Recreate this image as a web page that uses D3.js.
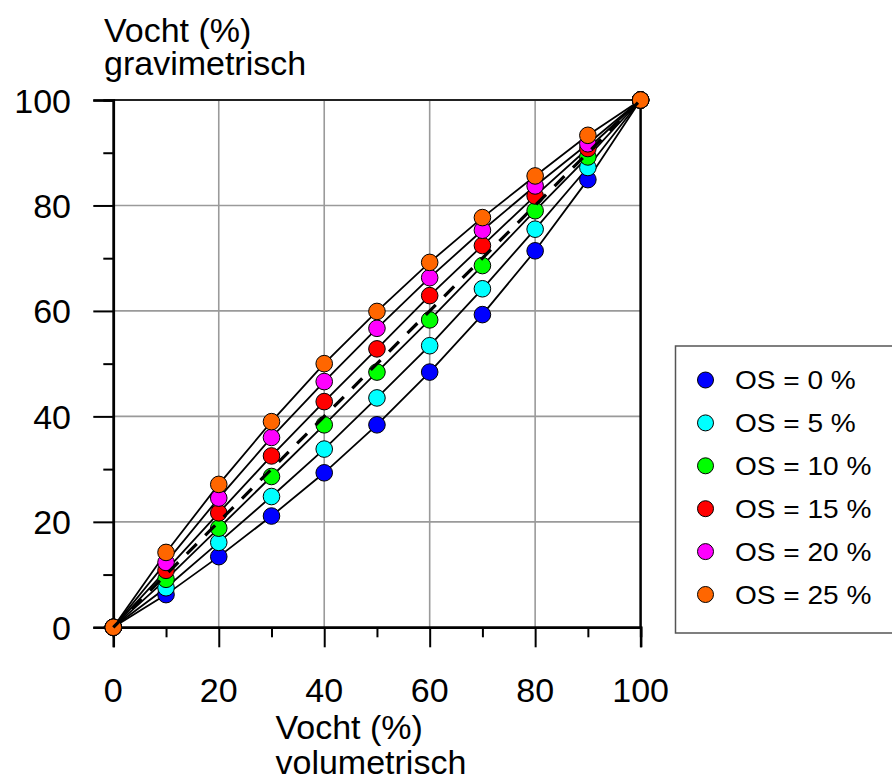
<!DOCTYPE html>
<html>
<head>
<meta charset="utf-8">
<script src="https://cdn.jsdelivr.net/npm/d3@7"></script>
<style>
  html, body { margin: 0; padding: 0; background: #fff; }
  svg text { font-family: Arial, "Liberation Sans", sans-serif; fill: #000; }
</style>
</head>
<body>
<svg id="chart" width="892" height="781"></svg>
<script>
// ---- data ----
const xValues = [0, 10, 20, 30, 40, 50, 60, 70, 80, 90, 100];
const seriesNames = ["OS = 0 %", "OS = 5 %", "OS = 10 %", "OS = 15 %", "OS = 20 %", "OS = 25 %"];
const seriesColors = ["#0000ff", "#00ffff", "#00ff00", "#ff0000", "#ff00ff", "#ff6600"];
const os0  = [0, 6.2, 13.4, 21.1, 29.3, 38.4, 48.4, 59.3, 71.4, 84.9, 100];
const os5  = [0, 7.5, 16.1, 24.8, 33.8, 43.5, 53.4, 64.2, 75.5, 87.2, 100];
const os10 = [0, 9.1, 18.8, 28.6, 38.4, 48.4, 58.3, 68.6, 79.0, 89.2, 100];
const os15 = [0, 10.8, 21.7, 32.5, 42.8, 52.8, 62.9, 72.4, 81.8, 90.8, 100];
const os20 = [0, 12.3, 24.5, 36.0, 46.6, 56.7, 66.3, 75.3, 83.7, 91.7, 100];
const os25 = [0, 14.2, 27.1, 39.0, 50.0, 59.9, 69.2, 77.7, 85.6, 93.3, 100];
const seriesValues = [os0, os5, os10, os15, os20, os25];
const xTickLabels = ["0", "20", "40", "60", "80", "100"];
const yTickLabels = ["0", "20", "40", "60", "80", "100"];
const minorTicks = [10, 30, 50, 70, 90];
const diagonal = [0, 100];
const yTitleLines = ["Vocht (%)", "gravimetrisch"];
const xTitleLines = ["Vocht (%)", "volumetrisch"];

// ---- layout ----
const svg = d3.select("#chart");
const plotLeft = 113.3, plotTop = 100, plotSize = 527.3;
const x = d3.scaleLinear().domain([0, 100]).range([plotLeft, plotLeft + plotSize]);
const y = d3.scaleLinear().domain([0, 100]).range([plotTop + plotSize, plotTop]);

// grid
const grid = svg.append("g");
[20, 40, 60, 80].forEach(v => {
  grid.append("line").attr("x1", x(v)).attr("x2", x(v)).attr("y1", y(0)).attr("y2", y(100))
    .attr("stroke", "#9a9a9a").attr("stroke-width", 1.6);
  grid.append("line").attr("x1", x(0)).attr("x2", x(100)).attr("y1", y(v)).attr("y2", y(v))
    .attr("stroke", "#9a9a9a").attr("stroke-width", 1.6);
});
// top and right frame
svg.append("line").attr("x1", x(0)).attr("x2", x(100)).attr("y1", y(100)).attr("y2", y(100))
  .attr("stroke", "#222").attr("stroke-width", 2);
svg.append("line").attr("x1", x(100)).attr("x2", x(100)).attr("y1", y(0)).attr("y2", y(100))
  .attr("stroke", "#000").attr("stroke-width", 2.5);

// axes
const xAxisMajor = d3.axisBottom(x).tickValues(xTickLabels.map(Number)).tickSize(20).tickFormat("");
const xAxisMinor = d3.axisBottom(x).tickValues(minorTicks).tickSize(10).tickFormat("");
const yAxisMajor = d3.axisLeft(y).tickValues(yTickLabels.map(Number)).tickSize(20).tickFormat("");
const yAxisMinor = d3.axisLeft(y).tickValues(minorTicks).tickSize(10).tickFormat("");
function styleAxis(g) {
  g.selectAll("path.domain").attr("stroke", "#000").attr("stroke-width", 2.5);
  g.selectAll(".tick line").attr("stroke", "#000").attr("stroke-width", 2);
}
svg.append("g").attr("transform", `translate(0,${y(0)})`).call(xAxisMajor).call(styleAxis);
svg.append("g").attr("transform", `translate(0,${y(0)})`).call(xAxisMinor).call(styleAxis);
svg.append("g").attr("transform", `translate(${x(0)},0)`).call(yAxisMajor).call(styleAxis);
svg.append("g").attr("transform", `translate(${x(0)},0)`).call(yAxisMinor).call(styleAxis);

// tick labels
xTickLabels.forEach(t => {
  svg.append("text").attr("x", x(+t)).attr("y", 702).attr("text-anchor", "middle")
    .attr("font-size", 34).text(t);
});
yTickLabels.forEach(t => {
  svg.append("text").attr("x", 71).attr("y", y(+t) + 12.5).attr("text-anchor", "end")
    .attr("font-size", 34).text(t);
});

// axis titles (two lines each, as one text element)
const yTitle = svg.append("text").attr("font-size", 34);
yTitleLines.forEach((l, i) => yTitle.append("tspan").attr("x", 104).attr("y", 42 + i * 33).text(l));
const xTitle = svg.append("text").attr("font-size", 34);
xTitleLines.forEach((l, i) => xTitle.append("tspan").attr("x", 275.5).attr("y", 739 + i * 35).text(l));

// series lines
const line = d3.line().x((d, i) => x(xValues[i])).y(d => y(d));
seriesValues.forEach(vals => {
  svg.append("path").attr("d", line(vals)).attr("fill", "none")
    .attr("stroke", "#000").attr("stroke-width", 1.8);
});

// markers
seriesValues.forEach((vals, s) => {
  svg.append("g").selectAll("circle").data(vals).join("circle")
    .attr("cx", (d, i) => x(xValues[i])).attr("cy", d => y(d)).attr("r", 8.3)
    .attr("fill", seriesColors[s]).attr("stroke", "#000").attr("stroke-width", 1);
});

// 1:1 dashed line
svg.append("line").attr("x1", x(diagonal[0])).attr("y1", y(diagonal[0]))
  .attr("x2", x(diagonal[1])).attr("y2", y(diagonal[1]))
  .attr("stroke", "#000").attr("stroke-width", 3.2).attr("stroke-dasharray", "14,12");

// legend
const lg = svg.append("g");
lg.append("rect").attr("x", 675.5).attr("y", 346).attr("width", 230).attr("height", 287)
  .attr("fill", "#fff").attr("stroke", "#555").attr("stroke-width", 1.5);
seriesNames.forEach((n, i) => {
  const cy = 380 + i * 42.9;
  lg.append("circle").attr("cx", 705.5).attr("cy", cy).attr("r", 8)
    .attr("fill", seriesColors[i]).attr("stroke", "#000").attr("stroke-width", 1);
  lg.append("text").attr("transform", `translate(735,${cy + 9}) scale(1.1,1)`)
    .attr("font-size", 25.5).text(n);
});
</script>
</body>
</html>
